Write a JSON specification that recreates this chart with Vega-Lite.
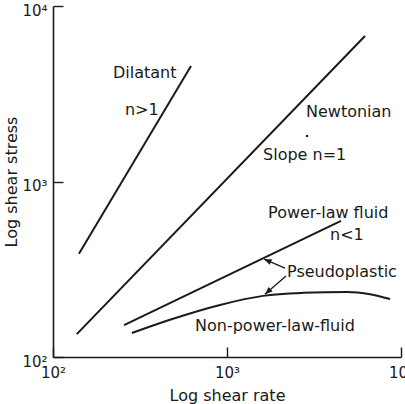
{
  "$schema": "https://vega.github.io/schema/vega-lite/v6.json",
  "width": 348,
  "height": 351,
  "autosize": "none",
  "padding": {"left": 53, "top": 6, "right": 4, "bottom": 47},
  "background": "white",
  "config": {
    "view": {"stroke": null},
    "font": "DejaVu Sans",
    "axis": {
      "grid": false,
      "domainColor": "#1a1a1a",
      "domainWidth": 1.6,
      "tickColor": "#1a1a1a",
      "tickWidth": 1.4,
      "tickSize": -10,
      "labelFont": "DejaVu Sans",
      "labelFontSize": 15,
      "labelColor": "#1a1a1a",
      "titleFont": "DejaVu Sans",
      "titleFontSize": 16,
      "titleFontWeight": "normal",
      "titleColor": "#1a1a1a"
    }
  },
  "datasets": {
    "curves": [
      {"series": "Dilatant", "rate": 141, "stress": 387},
      {"series": "Dilatant", "rate": 621, "stress": 4550},
      {"series": "Newtonian", "rate": 137, "stress": 135},
      {"series": "Newtonian", "rate": 6210, "stress": 6745},
      {"series": "Power-law", "rate": 256, "stress": 152},
      {"series": "Power-law", "rate": 4520, "stress": 596},
      {"series": "Non-power-law", "rate": 284, "stress": 137},
      {"series": "Non-power-law", "rate": 470, "stress": 163},
      {"series": "Non-power-law", "rate": 912, "stress": 198},
      {"series": "Non-power-law", "rate": 1611, "stress": 223},
      {"series": "Non-power-law", "rate": 2735, "stress": 232},
      {"series": "Non-power-law", "rate": 4900, "stress": 235},
      {"series": "Non-power-law", "rate": 6640, "stress": 228},
      {"series": "Non-power-law", "rate": 8650, "stress": 214}
    ],
    "arrows": [
      {"arrow": "a1", "rate": 2154, "stress": 321},
      {"arrow": "a1", "rate": 1633, "stress": 361},
      {"arrow": "a2", "rate": 2183, "stress": 289},
      {"arrow": "a2", "rate": 1653, "stress": 228}
    ],
    "heads": [
      {"arrow": "a1", "rate": 1633, "stress": 361, "dir": 293},
      {"arrow": "a2", "rate": 1653, "stress": 228, "dir": 229}
    ],
    "labels": [
      {"label": "Dilatant", "rate": 221, "stress": 3890},
      {"label": "n>1", "rate": 259, "stress": 2393},
      {"label": "Newtonian", "rate": 2844, "stress": 2333},
      {"label": "Slope n=1", "rate": 1611, "stress": 1326},
      {"label": "Power-law fluid", "rate": 1722, "stress": 620},
      {"label": "n<1", "rate": 3908, "stress": 464},
      {"label": "Pseudoplastic", "rate": 2213, "stress": 286},
      {"label": "Non-power-law-fluid", "rate": 655, "stress": 141}
    ],
    "dot": [
      {"rate": 2885, "stress": 1815}
    ]
  },
  "encoding": {
    "x": {
      "field": "rate", "type": "quantitative",
      "scale": {"type": "log", "domain": [100, 10000], "nice": false},
      "axis": {
        "title": "Log shear rate",
        "values": [100, 1000, 10000],
        "labelExpr": "datum.value == 100 ? '10²' : datum.value == 1000 ? '10³' : '10⁴'",
        "labelPadding": 18,
        "labelFlush": false,
        "titlePadding": 7
      }
    },
    "y": {
      "field": "stress", "type": "quantitative",
      "scale": {"type": "log", "domain": [100, 10000], "nice": false},
      "axis": {
        "title": "Log shear stress",
        "values": [100, 1000, 10000],
        "labelExpr": "datum.value == 100 ? '10²' : datum.value == 1000 ? '10³' : '10⁴'",
        "labelPadding": 16,
        "labelBaseline": "top",
        "labelOffset": -3,
        "labelFlush": false,
        "titlePadding": 2
      }
    }
  },
  "layer": [
    {
      "data": {"name": "curves"},
      "mark": {"type": "line", "color": "#1a1a1a", "strokeWidth": 2, "interpolate": "monotone"},
      "encoding": {"detail": {"field": "series"}}
    },
    {
      "data": {"name": "arrows"},
      "mark": {"type": "line", "color": "#1a1a1a", "strokeWidth": 1.3},
      "encoding": {"detail": {"field": "arrow"}}
    },
    {
      "data": {"name": "heads"},
      "mark": {"type": "point", "shape": "M0,0L-0.4,1L0.4,1Z", "filled": true, "color": "#1a1a1a", "size": 220, "opacity": 1},
      "encoding": {"angle": {"field": "dir", "type": "quantitative", "scale": null}}
    },
    {
      "data": {"name": "dot"},
      "mark": {"type": "circle", "color": "#1a1a1a", "size": 6, "opacity": 1}
    },
    {
      "data": {"name": "labels"},
      "mark": {"type": "text", "align": "left", "baseline": "alphabetic", "font": "DejaVu Sans", "fontSize": 16, "color": "#1a1a1a"},
      "encoding": {"text": {"field": "label"}}
    }
  ]
}
